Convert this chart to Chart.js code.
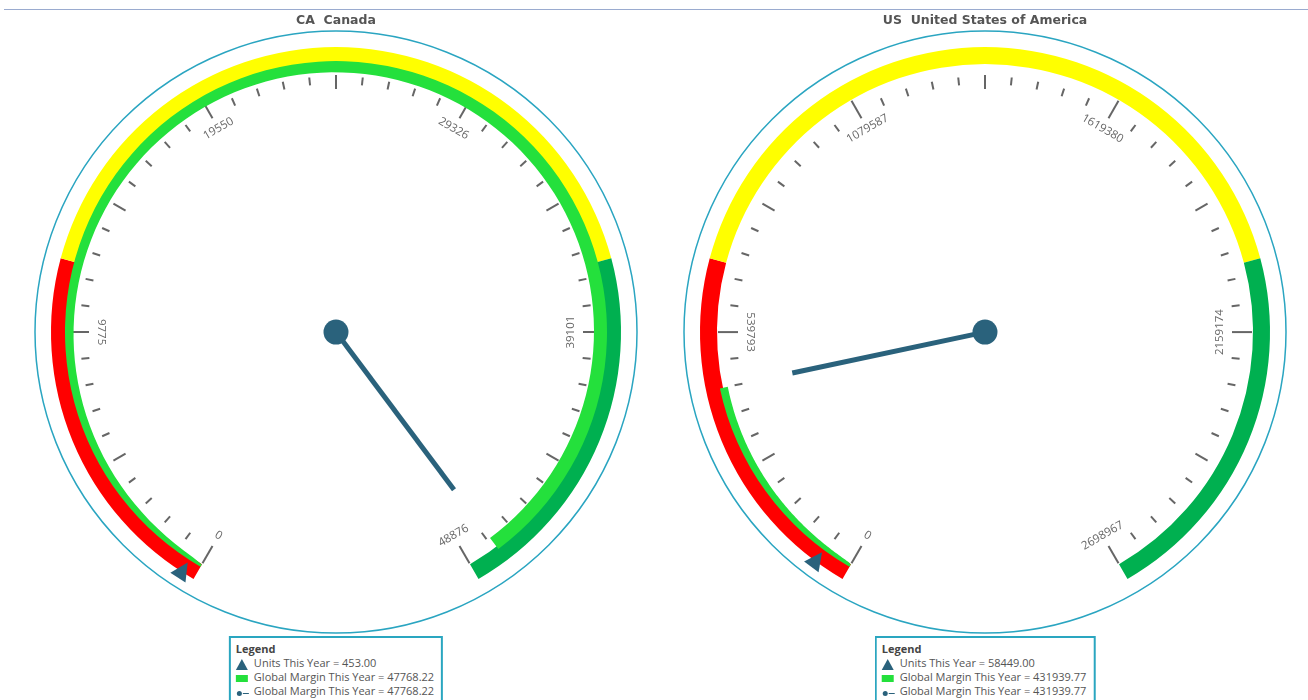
<!DOCTYPE html>
<html>
<head>
<meta charset="utf-8">
<script src="https://cdn.jsdelivr.net/npm/chart.js@4.4.1/dist/chart.umd.min.js"></script>
<style>
  body { margin: 0; width: 1308px; height: 700px; overflow: hidden; background: #fff; position: relative; font-family: "Open Sans", sans-serif; }
  .topline { position: absolute; left: 4px; right: 0; top: 9px; height: 1px; background: #9aabcf; }
  canvas { position: absolute; }
  .title { position: absolute; top: 12px; transform: translateX(-50%); white-space: pre; font: bold 12.5px "DejaVu Sans", sans-serif; color: #555; }
  .legend { position: absolute; top: 636px; transform: translateX(-50%); border: 2px solid #2aa6c0; padding: 4px 7px 6px 5px; font-size: 11px; line-height: 14px; color: #555; white-space: nowrap; background: #fff; }
  .legend .lh { font-weight: bold; color: #444; }
  .legend .ic { display: inline-block; width: 12px; margin-right: 6px; vertical-align: middle; position: relative; height: 11px; }
  .tri { width: 0 !important; height: 0 !important; border-left: 6px solid transparent; border-right: 6px solid transparent; border-bottom: 11px solid #2a627c; }
  .rect { height: 7px !important; background: #24e03c; }
  .dotline::before { content: ""; position: absolute; left: 1px; top: 4px; width: 5px; height: 5px; border-radius: 50%; background: #2a627c; }
  .dotline::after { content: ""; position: absolute; left: 7px; top: 6px; width: 6px; height: 1px; background: #2a627c; }
</style>
</head>
<body>
<div class="topline"></div>
<canvas id="g0" width="640" height="680"></canvas>
<canvas id="g1" width="640" height="680"></canvas>
<script>
// gauge data
var gaugeTitles = ['CA  Canada', 'US  United States of America'];
var scaleMax = [48876, 2698967];
var tickValues = [
    [0, 9775, 19550, 29326, 39101, 48876],
    [0, 539793, 1079587, 1619380, 2159174, 2698967]
];
var redBandEnd = [12219, 674742];
var yellowBandEnd = [36657, 2024225];
var unitsThisYear = [453.00, 58449.00];
var marginThisYear = [47768.22, 431939.77];

var centersX = [336, 985];
var centerY = 332;
var needleColor = '#2a627c';

var gaugePlugin = {
    id: 'gauge',
    beforeDatasetsDraw: function (chart) {
        var g = chart.options.plugins.gauge;
        var arc = chart.getDatasetMeta(0).data[0];
        var ctx = chart.ctx;
        var cx = arc.x, cy = arc.y;
        var sweep = chart.options.circumference * Math.PI / 180;
        var ang = function (v) { return arc.startAngle + v / g.max * sweep; };

        ctx.save();
        // outer blue ring
        ctx.strokeStyle = '#2aa5c1';
        ctx.lineWidth = 1.5;
        ctx.beginPath();
        ctx.arc(cx, cy, 301, 0, Math.PI * 2);
        ctx.stroke();

        // ticks
        ctx.strokeStyle = '#666';
        ctx.lineWidth = 2;
        var ticks = g.ticks;
        function tick(v, r0, r1) {
            var a = ang(v);
            ctx.beginPath();
            ctx.moveTo(cx + Math.cos(a) * r0, cy + Math.sin(a) * r0);
            ctx.lineTo(cx + Math.cos(a) * r1, cy + Math.sin(a) * r1);
            ctx.stroke();
        }
        for (var i = 0; i < ticks.length; i++) {
            tick(ticks[i], 247, 267);
            if (i < ticks.length - 1) {
                for (var k = 1; k < 10; k++) {
                    var v = ticks[i] + (ticks[i + 1] - ticks[i]) * k / 10;
                    if (k === 5) tick(v, 243, 257);
                    else tick(v, 248, 256);
                }
            }
        }

        // tick labels
        ctx.fillStyle = '#666';
        ctx.font = '11.5px "Open Sans"';
        ctx.textAlign = 'center';
        ctx.textBaseline = 'middle';
        ticks.forEach(function (t) {
            var a = ang(t);
            var deg = a * 180 / Math.PI + 90;
            deg = ((deg % 360) + 540) % 360 - 180;
            if (deg > 90.5) deg -= 180;
            if (deg < -90.5) deg += 180;
            if (Math.abs(Math.abs(deg) - 90) < 0.5) deg = -deg;
            ctx.save();
            ctx.translate(cx + Math.cos(a) * 235, cy + Math.sin(a) * 235);
            ctx.rotate(deg * Math.PI / 180);
            ctx.fillText(String(t), 0, 0);
            ctx.restore();
        });
        ctx.restore();
    },
    afterDatasetsDraw: function (chart) {
        var g = chart.options.plugins.gauge;
        var arc = chart.getDatasetMeta(0).data[0];
        var ctx = chart.ctx;
        var cx = arc.x, cy = arc.y;
        var sweep = chart.options.circumference * Math.PI / 180;
        var ang = function (v) { return arc.startAngle + v / g.max * sweep; };

        ctx.save();
        // tapered margin band, built on the second ring's arc
        var el = chart.getDatasetMeta(1).data[0];
        var rOut = el.outerRadius + 3;
        var n = 120;
        ctx.fillStyle = '#24e03c';
        ctx.beginPath();
        ctx.arc(cx, cy, rOut, el.startAngle, el.endAngle);
        for (var j = n; j >= 0; j--) {
            var a = el.startAngle + (el.endAngle - el.startAngle) * j / n;
            var p = (a - arc.startAngle) / sweep;
            var r = rOut - (2.5 + 11.5 * Math.pow(Math.max(p, 0), 0.4));
            ctx.lineTo(cx + Math.cos(a) * r, cy + Math.sin(a) * r);
        }
        ctx.closePath();
        ctx.fill();

        // needle
        var na = ang(g.needle);
        ctx.strokeStyle = needleColor;
        ctx.lineWidth = 5;
        ctx.beginPath();
        ctx.moveTo(cx, cy);
        ctx.lineTo(cx + Math.cos(na) * 197, cy + Math.sin(na) * 197);
        ctx.stroke();
        ctx.fillStyle = needleColor;
        ctx.beginPath();
        ctx.arc(cx, cy, 12.5, 0, Math.PI * 2);
        ctx.fill();

        // units marker
        var ta = ang(g.marker);
        var ux = Math.cos(ta), uy = Math.sin(ta);
        ctx.beginPath();
        ctx.moveTo(cx + ux * 274, cy + uy * 274);
        ctx.lineTo(cx + ux * 292 - uy * 9, cy + uy * 292 + ux * 9);
        ctx.lineTo(cx + ux * 292 + uy * 9, cy + uy * 292 - ux * 9);
        ctx.closePath();
        ctx.fill();
        ctx.restore();
    }
};

gaugeTitles.forEach(function (title, i) {
    var max = scaleMax[i];
    var canvas = document.getElementById('g' + i);
    var chart = new Chart(canvas.getContext('2d'), {
        type: 'doughnut',
        data: {
            labels: ['Low', 'Mid', 'High'],
            datasets: [{
                label: 'Range',
                data: [redBandEnd[i], yellowBandEnd[i] - redBandEnd[i], max - yellowBandEnd[i]],
                backgroundColor: ['#ff0000', '#ffff00', '#00b050'],
                borderWidth: 0,
                weight: 17
            }, {
                label: 'Global Margin This Year',
                data: [marginThisYear[i], max - marginThisYear[i]],
                backgroundColor: ['rgba(0,0,0,0)', 'rgba(0,0,0,0)'],
                borderWidth: 0,
                weight: 11
            }]
        },
        options: {
            responsive: false,
            animation: false,
            events: [],
            rotation: 210,
            circumference: 300,
            radius: 285,
            cutout: (257 / 285 * 100) + '%',
            layout: { padding: 0 },
            plugins: {
                legend: { display: false },
                tooltip: { enabled: false },
                gauge: { max: max, ticks: tickValues[i], needle: marginThisYear[i], marker: unitsThisYear[i] }
            }
        },
        plugins: [gaugePlugin]
    });
    var a0 = chart.getDatasetMeta(0).data[0];
    canvas.style.left = (centersX[i] - a0.x) + 'px';
    canvas.style.top = (centerY - a0.y) + 'px';

    var t = document.createElement('div');
    t.className = 'title';
    t.style.left = centersX[i] + 'px';
    t.textContent = title;
    document.body.appendChild(t);

    var lg = document.createElement('div');
    lg.className = 'legend';
    lg.style.left = centersX[i] + 'px';
    lg.innerHTML = '<div class="lh">Legend</div>' +
        '<div><span class="ic tri"></span>Units This Year = ' + unitsThisYear[i].toFixed(2) + '</div>' +
        '<div><span class="ic rect"></span>Global Margin This Year = ' + marginThisYear[i].toFixed(2) + '</div>' +
        '<div><span class="ic dotline"></span>Global Margin This Year = ' + marginThisYear[i].toFixed(2) + '</div>';
    document.body.appendChild(lg);
});
</script>
</body>
</html>
